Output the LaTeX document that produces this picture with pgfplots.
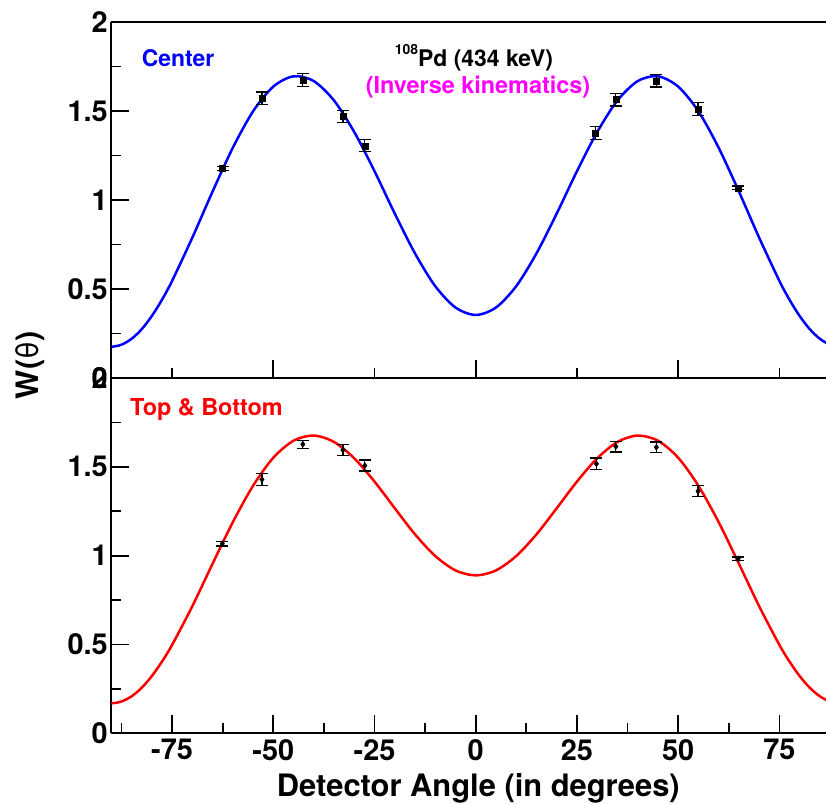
\documentclass[border=0pt]{standalone}
\usepackage{fontspec}
\setmainfont{TeX Gyre Heros}
\usepackage{pgfplots}
\pgfplotsset{compat=1.18}
\definecolor{rootblue}{RGB}{0,0,255}
\definecolor{rootred}{RGB}{255,0,0}
\definecolor{rootmag}{RGB}{255,0,255}
\pgfplotsset{
  panel/.style={
    scale only axis, width=714.7bp,
    xmin=-90, xmax=86.5, ymin=0, ymax=2,
    axis y line*=left,
    axis line style={line width=1.8bp, black},
    tick align=inside, xtick pos=left,
    major tick length=18bp, minor tick length=10bp,
    every tick/.style={black, line width=1.8bp},
    ytick={0,0.5,1,1.5,2}, yticklabels={0,0.5,1,1.5,2},
    minor ytick={0.25,0.75,1.25,1.75},
    tick label style={font=\fontsize{29}{29}\selectfont\bfseries},
    clip=true,
  },
  errpts/.style={only marks, black, mark options={black, solid},
    error bars/.cd, y dir=both, y explicit,
    error bar style={line width=1.3bp, black},
    error mark options={rotate=90, mark size=6bp, line width=1.3bp, black}},
}
\begin{document}
\begin{tikzpicture}
% ---------- bottom panel: Top & Bottom ----------
\begin{axis}[panel, at={(0bp,0bp)}, anchor=south west, height=355.3bp,
  xtick={-75,-50,-25,0,25,50,75},
  xticklabels={-75,-50,-25,0,25,50,75},
  minor xtick={-87.5,-62.5,-37.5,-12.5,12.5,37.5,62.5},
  xticklabel style={yshift=-2.5bp}]
\addplot[rootred, line width=2.5bp, smooth] coordinates {
(-92.5,0.179) (-90,0.169) (-87.5,0.179) (-85,0.208) (-82.5,0.256) (-80,0.322)
(-77.5,0.403) (-75,0.497) (-70,0.715) (-65,0.954)
(-60,1.188) (-55,1.393) (-50,1.551) (-45,1.647) (-40,1.676) (-35,1.640)
(-30,1.548) (-25,1.417) (-20,1.267) (-15,1.120) (-10,0.998) (-5,0.917)
(0,0.889) (5,0.917) (10,0.998) (15,1.120) (20,1.267) (25,1.417)
(30,1.548) (35,1.640) (40,1.676) (45,1.647) (50,1.551) (55,1.393)
(60,1.188) (65,0.954) (70,0.715) (75,0.497) (77.5,0.403) (80,0.322)
(82.5,0.256) (85,0.208) (87.5,0.179) (90,0.169)};
\addplot[mark=diamond*, mark size=3bp, errpts] table[x=x, y=y, y error=e] {
x y e
-62.6 1.067 0.012
-52.8 1.429 0.033
-42.7 1.627 0.022
-32.8 1.595 0.031
-27.4 1.507 0.031
29.8 1.517 0.033
34.6 1.614 0.030
44.6 1.610 0.030
54.9 1.363 0.031
64.8 0.983 0.010
};
\end{axis}
% ---------- top panel: Center ----------
\begin{axis}[panel, at={(0bp,355.3bp)}, anchor=south west, height=356bp,
  xtick={-50,0,50}, xticklabels={},
  minor xtick={-75,-25,25,75}]
\addplot[rootblue, line width=2.5bp, smooth] coordinates {
(-92.5,0.187) (-90,0.176) (-87.5,0.187) (-85,0.220) (-82.5,0.274) (-80,0.348)
(-77.5,0.439) (-75,0.545) (-70,0.788) (-65,1.047)
(-60,1.293) (-55,1.498) (-50,1.637) (-45,1.695) (-40,1.668) (-35,1.559)
(-30,1.382) (-25,1.162) (-20,0.924) (-15,0.700) (-10,0.516) (-5,0.396)
(0,0.354) (5,0.396) (10,0.516) (15,0.700) (20,0.924) (25,1.162)
(30,1.382) (35,1.559) (40,1.668) (45,1.695) (50,1.637) (55,1.498)
(60,1.293) (65,1.047) (70,0.788) (75,0.545) (77.5,0.439) (80,0.348)
(82.5,0.274) (85,0.220) (87.5,0.187) (90,0.176)};
\addplot[mark=square*, mark size=3bp, errpts] table[x=x, y=y, y error=e] {
x y e
-62.5 1.176 0.012
-52.8 1.571 0.036
-42.7 1.674 0.036
-32.8 1.468 0.034
-27.4 1.305 0.034
29.6 1.375 0.036
34.6 1.564 0.036
44.6 1.670 0.036
54.9 1.511 0.036
64.8 1.069 0.010
};
\end{axis}
% ---------- texts ----------
\node[anchor=base west, text=rootblue, font=\fontsize{23}{23}\selectfont\bfseries, inner sep=0pt] at (30.4bp,666.6bp) {Center};
\node[anchor=base, font=\fontsize{23}{23}\selectfont\bfseries, inner sep=0pt] at (362.7bp,666.6bp) {\raisebox{0.55em}{\fontsize{14}{14}\selectfont 108}Pd (434 keV)};
\node[anchor=base, text=rootmag, font=\fontsize{23.5}{23.5}\selectfont\bfseries, inner sep=0pt] at (366.7bp,640bp) {(Inverse kinematics)};
\node[anchor=base west, text=rootred, font=\fontsize{23.5}{23.5}\selectfont\bfseries, inner sep=0pt] at (18.7bp,317.3bp) {Top \& Bottom};
\node[anchor=base, font=\fontsize{31}{31}\selectfont\bfseries, inner sep=0pt] at (367bp,-63.4bp) {Detector Angle (in degrees)};
\node[rotate=90, font=\fontsize{31}{31}\selectfont\bfseries, inner sep=0pt] at (-81bp,368bp) {W({\fontseries{m}\selectfont θ})};
\pgfresetboundingbox
\path (-111.3bp,-70.7bp) rectangle (714.7bp,733.3bp);
\end{tikzpicture}
\end{document}
